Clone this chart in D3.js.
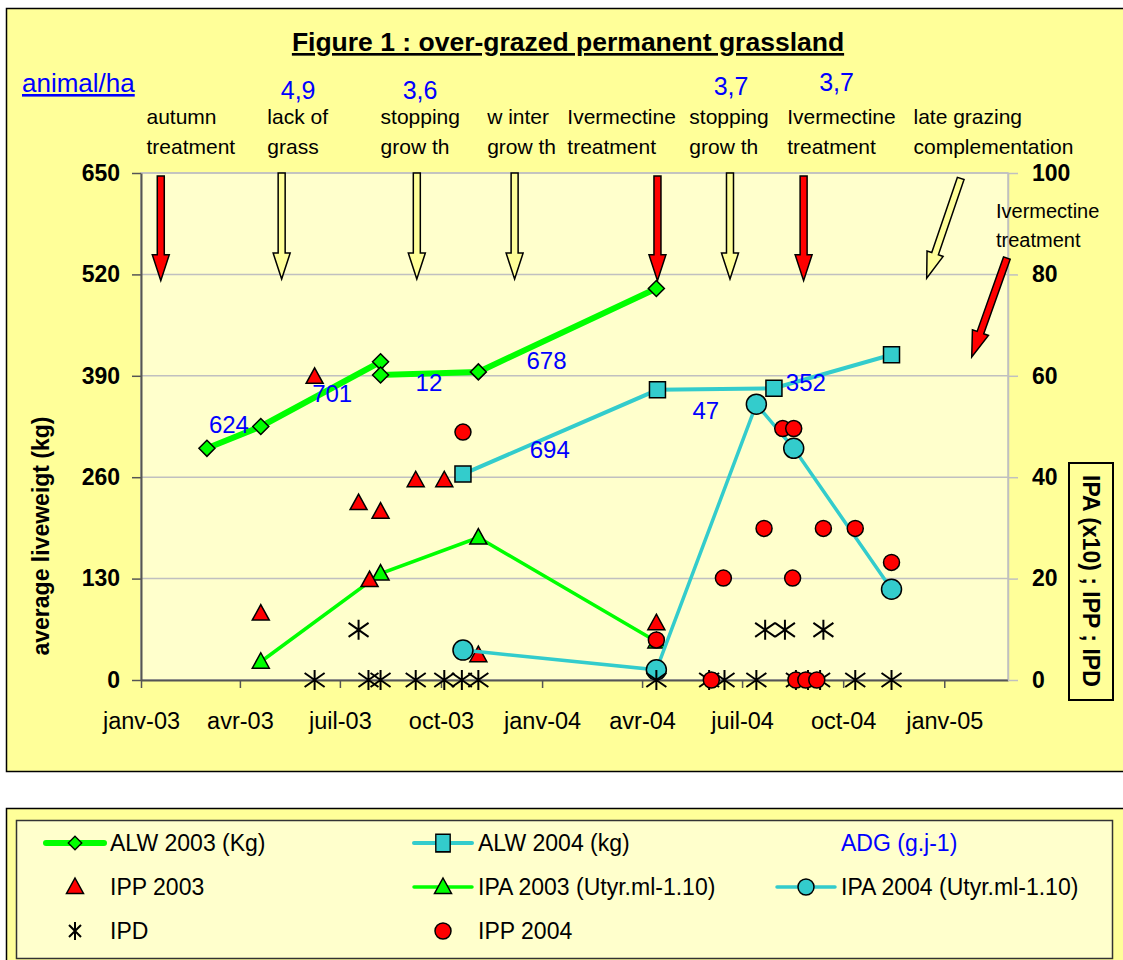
<!DOCTYPE html>
<html>

<head>
    <meta charset="utf-8" />
    <title>Figure 1 : over-grazed permanent grassland</title>
    <script src="https://d3js.org/d3.v7.min.js"></script>
    <style>
        body {
            margin: 0;
            background: #ffffff;
        }

        svg {
            display: block;
            font-family: "Liberation Sans", Arial, sans-serif;
        }
    </style>
</head>

<body>
    <svg width="1123" height="960"></svg>
    <script>
        // ---- data ----
        // ALW = average liveweight (kg, left axis)
        var alw2003Dates = ["2003-03-02", "2003-04-20", "2003-08-07", "2003-08-07", "2003-11-04", "2004-04-14"];
        var alw2003Values = [297, 325, 408, 391, 395, 502];

        var alw2004Dates = ["2003-10-21", "2004-04-15", "2004-07-30", "2004-11-14"];
        var alw2004Values = [264, 372, 374, 417];

        // IPA / IPP / IPD (right axis)
        var ipa2003Dates = ["2003-04-20", "2003-08-07", "2003-11-04", "2004-04-14"];
        var ipa2003Values = [3.6, 21, 28.1, 7.6];

        var ipa2004Dates = ["2003-10-21", "2004-04-14", "2004-07-14", "2004-08-17", "2004-11-14"];
        var ipa2004Values = [5.9, 2, 54.4, 45.7, 17.9];

        var ipp2003Dates = ["2003-04-20", "2003-06-08", "2003-07-18", "2003-07-28", "2003-08-07",
            "2003-09-08", "2003-10-04", "2003-11-04", "2004-04-14"];
        var ipp2003Values = [13.1, 59.8, 34.9, 19.7, 33.2, 39.4, 39.4, 4.9, 11.2];

        var ipp2004Dates = ["2003-10-21", "2004-04-14", "2004-06-03", "2004-06-14", "2004-07-21",
            "2004-08-07", "2004-08-17", "2004-08-16", "2004-08-19", "2004-08-28", "2004-09-07",
            "2004-09-13", "2004-10-12", "2004-11-14"];
        var ipp2004Values = [48.9, 7.9, 0, 20.1, 29.9, 49.6, 49.6, 20.1, 0, 0, 0, 29.9, 29.9, 23.2];

        var ipdDates = ["2003-06-08", "2003-07-18", "2003-07-27", "2003-08-07", "2003-09-08",
            "2003-10-04", "2003-10-20", "2003-11-04", "2004-04-14", "2004-06-01", "2004-06-15",
            "2004-07-14", "2004-07-22", "2004-08-09", "2004-08-19", "2004-08-30", "2004-09-10",
            "2004-09-13", "2004-10-12", "2004-11-14"];
        var ipdValues = [0, 9.9, 0, 0, 0, 0, 0, 0, 0, 0, 0, 0, 9.9, 9.9, 0, 0, 0, 9.9, 0, 0];

        // ADG labels (g/day), placed on the left axis scale
        var adgLabels = ["624", "701", "12", "678", "694", "47", "352"];
        var adgDates = ["2003-03-22", "2003-06-24", "2003-09-20", "2004-01-05", "2004-01-08", "2004-05-29", "2004-08-28"];
        var adgValues = [328, 367, 382, 409, 296, 346, 382];

        // events above the plot
        var eventLines = [["autumn", "treatment"], ["lack of", "grass"], ["stopping", "grow th"],
            ["w inter", "grow th"], ["Ivermectine", "treatment"], ["stopping", "grow th"],
            ["Ivermectine", "treatment"], ["late grazing", "complementation"]];
        var eventTextDates = ["2003-01-06", "2003-04-26", "2003-08-07", "2003-11-12",
            "2004-01-24", "2004-05-14", "2004-08-11", "2004-12-04"];

        // stocking rates (animal/ha)
        var stockingRates = ["4,9", "3,6", "3,7", "3,7"];
        var stockingDates = ["2003-05-24", "2003-09-12", "2004-06-21", "2004-09-25"];

        // arrows: date of top, date of tip, value of top, value of tip (left scale)
        var arrowTopDates = ["2003-01-19", "2003-05-09", "2003-09-09", "2003-12-07", "2004-04-15",
            "2004-06-20", "2004-08-26", "2005-01-16", "2005-02-27"];
        var arrowTipDates = ["2003-01-19", "2003-05-09", "2003-09-09", "2003-12-07", "2004-04-15",
            "2004-06-20", "2004-08-26", "2004-12-16", "2005-01-26"];
        var arrowTopValues = [646, 650, 650, 650, 646, 650, 646, 643, 541];
        var arrowTipValues = [512, 514, 514, 514, 512, 514, 512, 515, 414];
        var arrowKinds = ["red", "yellow", "yellow", "yellow", "red", "yellow", "red", "yellow", "red"];

        var xTickDates = ["2003-01-01", "2003-04-01", "2003-07-01", "2003-10-01", "2004-01-01",
            "2004-04-01", "2004-07-01", "2004-10-01", "2005-01-01"];
        var xTickLabels = ["janv-03", "avr-03", "juil-03", "oct-03", "janv-04", "avr-04", "juil-04", "oct-04", "janv-05"];
        var leftTicks = [0, 130, 260, 390, 520, 650];
        var rightTicks = [0, 20, 40, 60, 80, 100];

        // ---- layout ----
        var svg = d3.select("svg");
        var parse = d3.timeParse("%Y-%m-%d");
        var plotL = 141, plotR = 1008, plotT = 173, plotB = 680;

        var green = "#00ff00", cyan = "#33cccc", red = "#ff0000", pale = "#ffff99", blue = "#0000ff";
        var font = "Liberation Sans, Arial, sans-serif";

        var x = d3.scaleTime()
            .domain([parse("2003-01-01"), parse("2005-02-28")])
            .range([plotL, plotR]);
        var yL = d3.scaleLinear().domain([0, 650]).range([plotB, plotT]);
        var yR = d3.scaleLinear().domain([0, 100]).range([plotB, plotT]);

        function pts(dates, values) {
            return dates.map(function (d, i) { return { date: parse(d), value: values[i] }; });
        }

        // chart area + plot area
        svg.append("rect").attr("x", 6.5).attr("y", 8.5).attr("width", 1130).attr("height", 763)
            .attr("fill", pale).attr("stroke", "#000").attr("stroke-width", 1.5);
        svg.append("rect").attr("x", plotL).attr("y", plotT).attr("width", plotR - plotL).attr("height", plotB - plotT)
            .attr("fill", "#ffffcc").attr("stroke", "#c0c0c0").attr("stroke-width", 1.5);

        // gridlines
        svg.append("g").selectAll("line").data(leftTicks.slice(1)).enter().append("line")
            .attr("x1", plotL).attr("x2", plotR)
            .attr("y1", function (d) { return yL(d); }).attr("y2", function (d) { return yL(d); })
            .attr("stroke", "#c0c0c0").attr("stroke-width", 1.5);

        // axes
        var xAxis = svg.append("g").attr("transform", "translate(0," + plotB + ")")
            .call(d3.axisBottom(x).tickValues(xTickDates.map(parse)).tickSize(8).tickSizeOuter(0)
                .tickFormat(function (d, i) { return xTickLabels[i]; }));
        xAxis.select(".domain").attr("stroke", "#555").attr("stroke-width", 2);
        xAxis.selectAll(".tick line").attr("stroke", "#555").attr("stroke-width", 1.5);
        xAxis.selectAll(".tick text").attr("y", 41).attr("dy", "0.35em")
            .attr("font-size", 23.5).attr("fill", "#000").attr("font-family", font);

        var yAxisL = svg.append("g").attr("transform", "translate(" + plotL + ",0)")
            .call(d3.axisLeft(yL).tickValues(leftTicks).tickSize(9).tickPadding(12).tickSizeOuter(0));
        yAxisL.select(".domain").attr("stroke", "#555").attr("stroke-width", 2);
        yAxisL.selectAll(".tick line").attr("stroke", "#555").attr("stroke-width", 1.5);
        yAxisL.selectAll(".tick text").attr("font-size", 23).attr("font-weight", "bold").attr("fill", "#000")
            .attr("font-family", font);

        var yAxisR = svg.append("g").attr("transform", "translate(" + plotR + ",0)")
            .call(d3.axisRight(yR).tickValues(rightTicks).tickSize(10).tickPadding(14).tickSizeOuter(0));
        yAxisR.select(".domain").attr("stroke", "#c0c0c0").attr("stroke-width", 1.5);
        yAxisR.selectAll(".tick line").attr("stroke", "#c0c0c0").attr("stroke-width", 1.5);
        yAxisR.selectAll(".tick text").attr("font-size", 23).attr("font-weight", "bold").attr("fill", "#000")
            .attr("font-family", font);

        // axis titles
        svg.append("text")
            .attr("transform", "translate(41,536) rotate(-90)")
            .attr("text-anchor", "middle").attr("dominant-baseline", "central")
            .attr("font-size", 23).attr("font-weight", "bold")
            .text("average liveweigt (kg)");

        // right title sits in a box and is cut at its bottom edge
        svg.append("clipPath").attr("id", "rclip").append("rect")
            .attr("x", 1069).attr("y", 463).attr("width", 44).attr("height", 237);
        svg.append("rect").attr("x", 1069).attr("y", 463).attr("width", 44).attr("height", 237)
            .attr("fill", "none").attr("stroke", "#000").attr("stroke-width", 2);
        svg.append("g").attr("clip-path", "url(#rclip)")
            .append("text")
            .attr("transform", "translate(1091,475) rotate(90)")
            .attr("dominant-baseline", "central")
            .attr("font-size", 23).attr("font-weight", "bold")
            .text("IPA (x10) ; IPP ; IPD");

        // title
        svg.append("text").attr("x", 568).attr("y", 51).attr("text-anchor", "middle")
            .attr("font-size", 26.5).attr("font-weight", "bold").attr("text-decoration", "underline")
            .text("Figure 1 : over-grazed permanent grassland");

        svg.append("text").attr("x", 22).attr("y", 92)
            .attr("font-size", 26).attr("fill", blue).attr("text-decoration", "underline")
            .text("animal/ha");

        // stocking rates
        svg.append("g").selectAll("text").data(stockingRates).enter().append("text")
            .attr("x", function (d, i) { return x(parse(stockingDates[i])); })
            .attr("y", function (d, i) { return i < 2 ? 99 : (i == 2 ? 95 : 91); })
            .attr("text-anchor", "middle").attr("font-size", 25).attr("fill", blue)
            .text(function (d) { return d; });

        // event labels
        var ev = svg.append("g").selectAll("text").data(eventLines).enter().append("text")
            .attr("x", function (d, i) { return x(parse(eventTextDates[i])); })
            .attr("font-size", 21).attr("fill", "#000");
        ev.selectAll("tspan").data(function (d) { return d; }).enter().append("tspan")
            .attr("x", function () { return d3.select(this.parentNode).attr("x"); })
            .attr("y", function (d, i) { return 124 + i * 30; })
            .text(function (d) { return d; });

        svg.append("text").attr("x", 996).attr("font-size", 20)
            .selectAll("tspan").data(["Ivermectine", "treatment"]).enter().append("tspan")
            .attr("x", 996).attr("y", function (d, i) { return 218 + i * 29; })
            .text(function (d) { return d; });

        // arrows
        function arrowPath(x0, y0, x1, y1) {
            var dx = x1 - x0, dy = y1 - y0, len = Math.sqrt(dx * dx + dy * dy);
            var ux = dx / len, uy = dy / len, nx = -uy, ny = ux;
            var sw = 3.5, hw = 8.5, hl = 26;
            var bx = x1 - ux * hl, by = y1 - uy * hl;
            var p = [
                [x0 + nx * sw, y0 + ny * sw], [bx + nx * sw, by + ny * sw], [bx + nx * hw, by + ny * hw],
                [x1, y1], [bx - nx * hw, by - ny * hw], [bx - nx * sw, by - ny * sw], [x0 - nx * sw, y0 - ny * sw]
            ];
            return "M" + p.map(function (q) { return q[0] + "," + q[1]; }).join("L") + "Z";
        }
        svg.append("g").selectAll("path").data(arrowKinds).enter().append("path")
            .attr("d", function (d, i) {
                return arrowPath(x(parse(arrowTopDates[i])), yL(arrowTopValues[i]),
                    x(parse(arrowTipDates[i])), yL(arrowTipValues[i]));
            })
            .attr("fill", function (d) { return d == "red" ? red : pale; })
            .attr("stroke", "#000").attr("stroke-width", 1.5).attr("stroke-linejoin", "miter");

        // lines
        var lineL = d3.line().x(function (d) { return x(d.date); }).y(function (d) { return yL(d.value); });
        var lineR = d3.line().x(function (d) { return x(d.date); }).y(function (d) { return yR(d.value); });

        var alw2003 = pts(alw2003Dates, alw2003Values);
        var alw2004 = pts(alw2004Dates, alw2004Values);
        var ipa2003 = pts(ipa2003Dates, ipa2003Values);
        var ipa2004 = pts(ipa2004Dates, ipa2004Values);
        var ipp2003 = pts(ipp2003Dates, ipp2003Values);
        var ipp2004 = pts(ipp2004Dates, ipp2004Values);
        var ipd = pts(ipdDates, ipdValues);

        // marker shapes
        var diamond = "M0,-8L8,0L0,8L-8,0Z";
        var square = "M-8,-8H8V8H-8Z";
        var triangle = "M0,-9L8.5,6.5H-8.5Z";
        var star = "M0,-10V10M-10,-7L10,7M-10,7L10,-7";

        function markers(g, data, yScale, path, fill, r) {
            var sel = g.selectAll(".m").data(data).enter();
            if (r) {
                sel.append("circle").attr("cx", function (d) { return x(d.date); })
                    .attr("cy", function (d) { return yScale(d.value); })
                    .attr("r", r).attr("fill", fill).attr("stroke", "#000").attr("stroke-width", 1.5);
            } else {
                sel.append("path").attr("d", path)
                    .attr("transform", function (d) { return "translate(" + x(d.date) + "," + yScale(d.value) + ")"; })
                    .attr("fill", fill).attr("stroke", "#000").attr("stroke-width", fill == "none" ? 2 : 1.5);
            }
        }

        var plot = svg.append("g");

        plot.append("path").attr("d", lineL(alw2003)).attr("fill", "none").attr("stroke", green).attr("stroke-width", 6);
        markers(plot.append("g"), alw2003, yL, diamond, green);

        plot.append("path").attr("d", lineL(alw2004)).attr("fill", "none").attr("stroke", cyan).attr("stroke-width", 4);
        markers(plot.append("g"), alw2004, yL, square, cyan);

        // ADG text
        plot.append("g").selectAll("text").data(adgLabels).enter().append("text")
            .attr("x", function (d, i) { return x(parse(adgDates[i])); })
            .attr("y", function (d, i) { return yL(adgValues[i]); })
            .attr("text-anchor", "middle").attr("dominant-baseline", "central")
            .attr("font-size", 24).attr("fill", blue)
            .text(function (d) { return d; });

        plot.append("path").attr("d", lineR(ipa2003)).attr("fill", "none").attr("stroke", green).attr("stroke-width", 3.5);
        markers(plot.append("g"), ipa2003, yR, triangle, green);

        markers(plot.append("g"), ipp2003, yR, triangle, red);

        plot.append("path").attr("d", lineR(ipa2004)).attr("fill", "none").attr("stroke", cyan).attr("stroke-width", 3.5);
        markers(plot.append("g"), ipa2004, yR, null, cyan, 10);

        markers(plot.append("g"), ipd, yR, star, "none");

        markers(plot.append("g"), ipp2004, yR, null, red, 8);

        // ---- legend ----
        svg.append("rect").attr("x", 6.5).attr("y", 808.5).attr("width", 1130).attr("height", 170)
            .attr("fill", pale).attr("stroke", "#000").attr("stroke-width", 1.5);
        svg.append("rect").attr("x", 16.5).attr("y", 820.5).attr("width", 1096).attr("height", 138)
            .attr("fill", "#ffffcc").attr("stroke", "#333").attr("stroke-width", 1.5);

        var legendNames = ["ALW 2003 (Kg)", "ALW 2004 (kg)", "ADG (g.j-1)", "IPP 2003",
            "IPA 2003 (Utyr.ml-1.10)", "IPA 2004 (Utyr.ml-1.10)", "IPD", "IPP 2004"];
        var legendLine = [green, cyan, null, null, green, cyan, null, null];
        var legendLineW = [6, 4, 0, 0, 3.5, 3.5, 0, 0];
        var legendMark = ["diamond", "square", null, "triangle", "triangle", "circle", "star", "circle"];
        var legendFill = [green, cyan, null, red, green, cyan, "none", red];
        var legendCol = [0, 1, 2, 0, 1, 2, 0, 1];
        var legendRow = [0, 0, 0, 1, 1, 1, 2, 2];
        var colX = [75, 443, 806];
        var rowY = [843, 887, 931];
        var shapes = { diamond: diamond, square: square, triangle: triangle, star: star };

        var lg = svg.append("g").selectAll("g").data(legendNames).enter().append("g")
            .attr("transform", function (d, i) { return "translate(" + colX[legendCol[i]] + "," + rowY[legendRow[i]] + ")"; });
        lg.each(function (d, i) {
            var g = d3.select(this);
            if (legendLine[i]) {
                g.append("line").attr("x1", -29).attr("x2", 29).attr("stroke", legendLine[i])
                    .attr("stroke-width", legendLineW[i]).attr("stroke-linecap", "round");
            }
            var m = legendMark[i];
            if (m == "circle") {
                g.append("circle").attr("r", 8).attr("fill", legendFill[i])
                    .attr("stroke", "#000").attr("stroke-width", 1.5);
            } else if (m == "star") {
                g.append("path").attr("d", "M0,-9V9M-6,-6L6,6M-6,6L6,-6").attr("fill", "none")
                    .attr("stroke", "#000").attr("stroke-width", 2);
            } else if (m) {
                g.append("path").attr("d", shapes[m]).attr("fill", legendFill[i])
                    .attr("stroke", "#000").attr("stroke-width", 1.5)
                    .attr("transform", m == "diamond" ? "scale(0.85)" : (m == "square" ? "scale(0.9,1.1)" : null));
            }
            g.append("text").attr("x", 35).attr("dominant-baseline", "central")
                .attr("font-size", 23).attr("fill", i == 2 ? blue : "#000")
                .text(d);
        });
    </script>
</body>

</html>
